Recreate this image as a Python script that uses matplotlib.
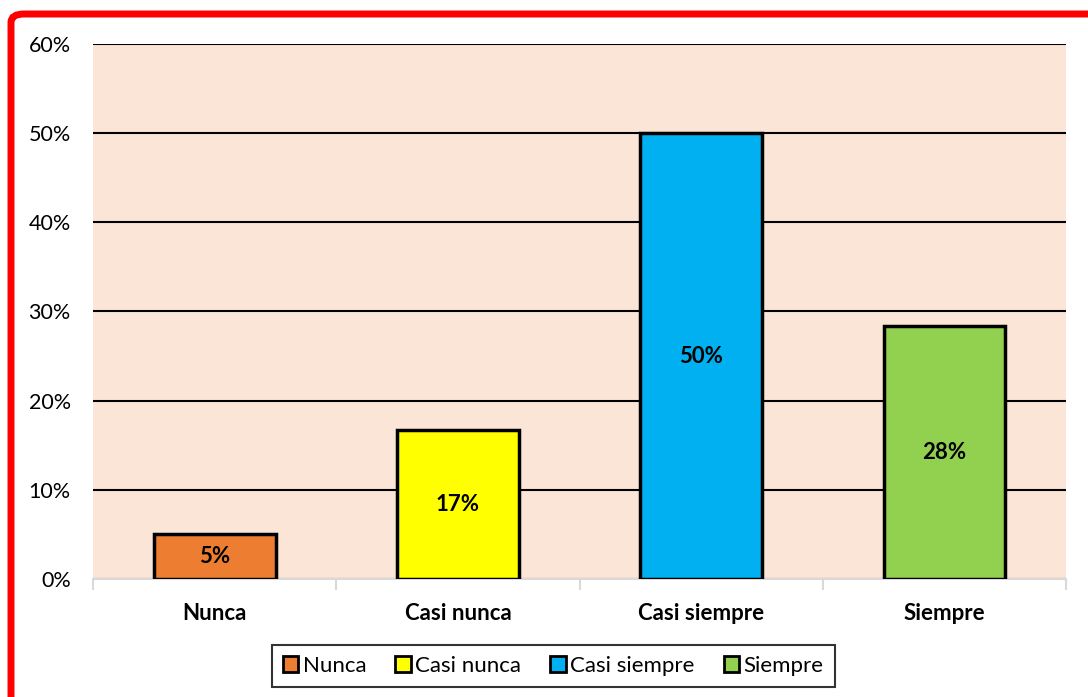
import matplotlib
matplotlib.use("Agg")
from matplotlib import pyplot as plt
from matplotlib.patches import FancyBboxPatch, Patch
from matplotlib.ticker import FuncFormatter, FixedLocator

categories = ["Nunca", "Casi nunca", "Casi siempre", "Siempre"]
values = [0.05, 0.1667, 0.50, 0.2833]
bar_labels = ["5%", "17%", "50%", "28%"]
colors = ["#ED7D31", "#FFFF00", "#00B0F0", "#92D050"]
yticks = [0.0, 0.1, 0.2, 0.3, 0.4, 0.5, 0.6]

plt.rcParams['font.family'] = ['Lato', 'DejaVu Sans']


def main():
    fig = plt.figure(figsize=(10.88, 6.97), dpi=100)
    axes = fig.add_axes([0.0855, 0.1693, 0.8945, 0.7676])
    axes.set_facecolor("#FBE5D6")

    xs = list(range(len(categories)))
    bars = axes.bar(xs, values, width=0.5, color=colors, edgecolor="black",
                    linewidth=2.5, zorder=3)
    for bar, text in zip(bars, bar_labels):
        axes.text(bar.get_x() + bar.get_width() / 2, bar.get_height() / 2, text,
                  ha="center", va="center", fontsize=16, fontweight="bold", zorder=4)

    axes.set_xlim(-0.5, len(categories) - 0.5)
    axes.set_ylim(0, 0.6)
    axes.yaxis.set_major_locator(FixedLocator(yticks))
    axes.yaxis.set_major_formatter(FuncFormatter(lambda v, _: f"{v*100:.0f}%"))
    axes.grid(axis="y", color="black", linewidth=1.5, zorder=1)
    axes.tick_params(axis="y", length=0, labelsize=15.5, pad=16)

    axes.set_xticks(xs)
    axes.set_xticklabels(categories, fontsize=16, fontweight="bold")
    axes.tick_params(axis="x", which="major", length=0, pad=17)
    axes.set_xticks([i - 0.5 for i in range(len(categories) + 1)], minor=True)
    axes.tick_params(axis="x", which="minor", length=8, width=1.5, color="#D9D9D9")

    for side in ("left", "right", "top"):
        axes.spines[side].set_visible(False)
    axes.spines["bottom"].set_color("#D9D9D9")
    axes.spines["bottom"].set_linewidth(1.5)

    handles = [Patch(facecolor=c, edgecolor="black", linewidth=2, label=n)
               for c, n in zip(colors, categories)]
    leg = fig.legend(handles=handles, loc="center", bbox_to_anchor=(0.5085, 0.0445),
                     ncol=4, fontsize=16, frameon=True, fancybox=False,
                     handlelength=0.7, handleheight=0.7, handletextpad=0.2,
                     columnspacing=1.3, borderpad=0.5)
    leg.get_frame().set_edgecolor("black")
    leg.get_frame().set_linewidth(1.5)

    # red frame round the chart area
    frame = FancyBboxPatch((11 / 1088, -0.5), 2.0, 1.5 - 14 / 697,
                           boxstyle="round,pad=0,rounding_size=0.012",
                           transform=fig.transFigure, facecolor="none",
                           edgecolor="#FF0000", linewidth=5, clip_on=False)
    fig.patches.append(frame)

    fig.savefig("out.png", dpi=100)


if __name__ == '__main__':
    main()
